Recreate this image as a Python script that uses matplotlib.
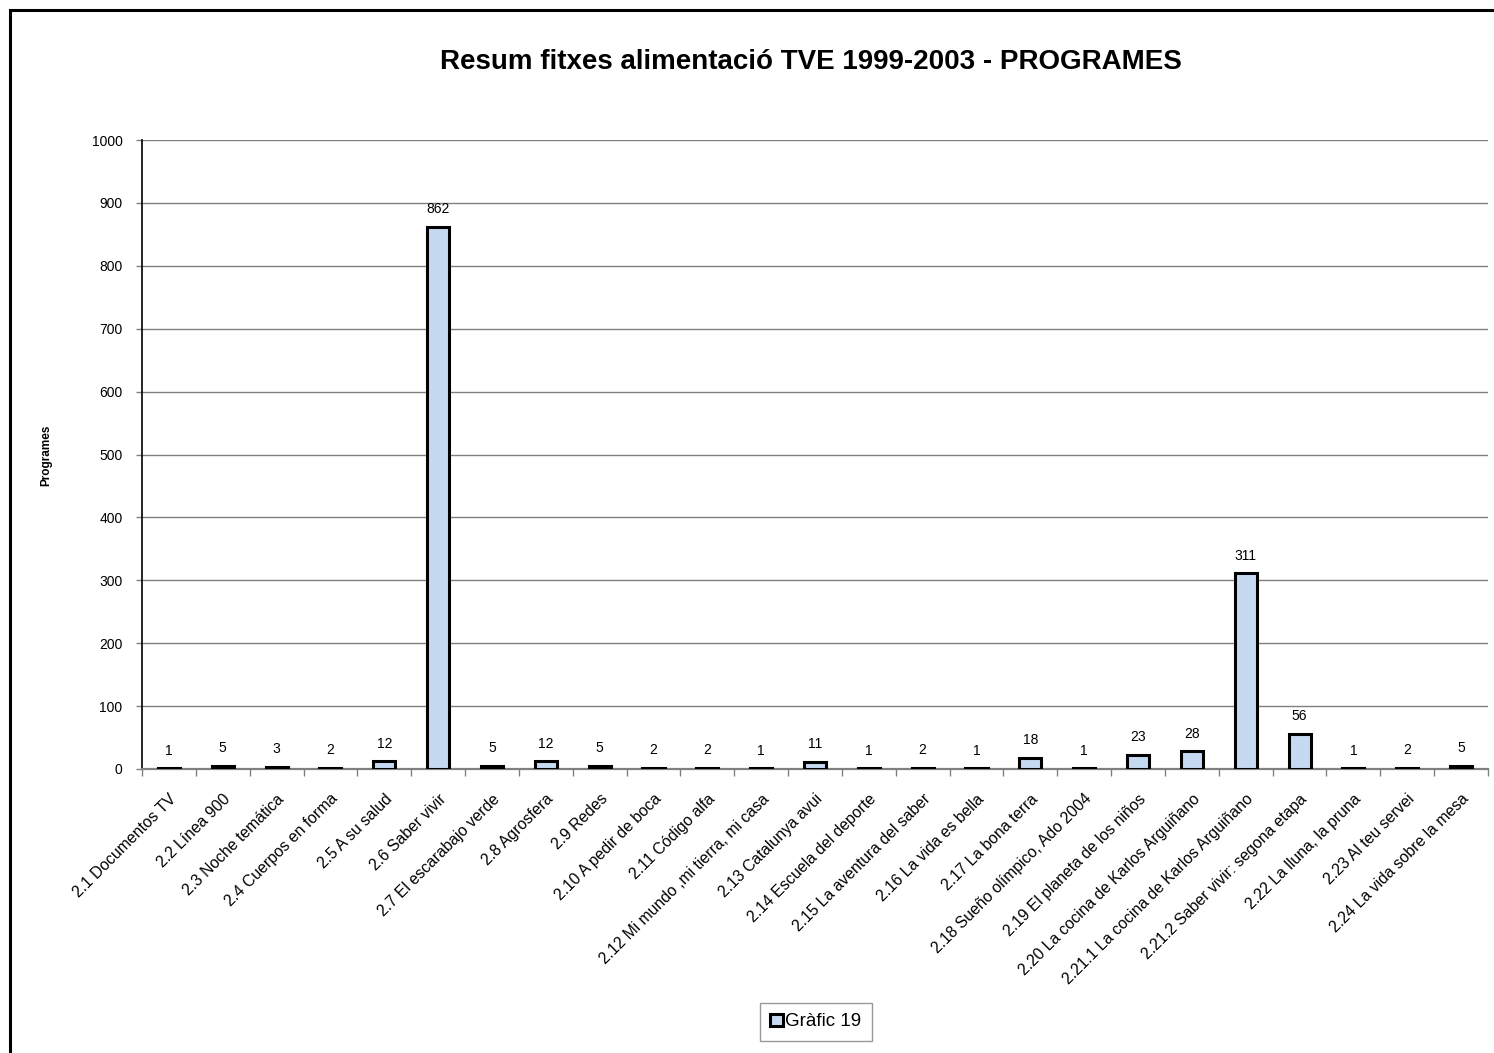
import matplotlib
matplotlib.use("Agg")
import matplotlib.pyplot as plt
from matplotlib.patches import Rectangle
import numpy as np

plt.rcParams['font.family'] = ['Liberation Sans', 'DejaVu Sans']

categories = ["2.1 Documentos TV", "2.2 Línea 900", "2.3 Noche temática", "2.4 Cuerpos en forma",
              "2.5 A su salud", "2.6 Saber vivir", "2.7 El escarabajo verde", "2.8 Agrosfera",
              "2.9 Redes", "2.10 A pedir de boca", "2.11 Código alfa", "2.12 Mi mundo ,mi tierra, mi casa",
              "2.13 Catalunya avui", "2.14 Escuela del deporte", "2.15 La aventura del saber",
              "2.16 La vida es bella", "2.17 La bona terra", "2.18 Sueño olímpico, Ado 2004",
              "2.19 El planeta de los niños", "2.20 La cocina de Karlos Arguiñano",
              "2.21.1 La cocina de Karlos Arguiñano", "2.21.2 Saber vivir: segona etapa",
              "2.22 La lluna, la pruna", "2.23 Al teu servei", "2.24 La vida sobre la mesa"]
values = [1, 5, 3, 2, 12, 862, 5, 12, 5, 2, 2, 1, 11, 1, 2, 1, 18, 1, 23, 28, 311, 56, 1, 2, 5]
yticks = [0, 100, 200, 300, 400, 500, 600, 700, 800, 900, 1000]
series_name = "Gràfic 19"
title = "Resum fitxes alimentació TVE 1999-2003 - PROGRAMES"
ylabel = "Programes"

W, H = 1494, 1053
fig = plt.figure(figsize=(W / 100, H / 100), dpi=100)

# outer border
fig.patches.append(Rectangle((10 / W, -0.01), 1.02, 1 - 10 / H + 0.01, transform=fig.transFigure,
                             fill=False, edgecolor='black', linewidth=2.2))

left, right, top, bottom = 142, 1488, 140, 769
ax = fig.add_axes([left / W, 1 - bottom / H, (right - left) / W, (bottom - top) / H])

n = len(categories)
x = np.arange(n)
ax.bar(x, values, width=0.41, color='#c5d9f1', edgecolor='black', linewidth=2.2, zorder=3,
       label=series_name)
for xi, v in zip(x, values):
    ax.text(xi, v + 17, str(v), ha='center', va='bottom', fontsize=10, color='black')

ax.set_xlim(-0.5, n - 0.5)
ax.set_ylim(0, 1000)
ax.set_yticks(yticks)
ax.set_yticklabels([str(t) for t in yticks], fontsize=10)
ax.yaxis.grid(True, color='#808080', linewidth=1.0, zorder=0)
ax.set_axisbelow(True)

ax.set_xticks(x)
ax.set_xticklabels(categories, rotation=45, ha='right', rotation_mode='anchor', fontsize=11.3)
ax.tick_params(axis='x', length=0, pad=16)
ax.set_xticks(np.arange(-0.5, n, 1.0), minor=True)
ax.tick_params(axis='x', which='minor', length=5, width=1, color='#808080')
ax.tick_params(axis='y', length=4, width=1, color='#808080', pad=10)

for s in ['top', 'right']:
    ax.spines[s].set_visible(False)
ax.spines['left'].set_color('black')
ax.spines['left'].set_linewidth(1.2)
ax.spines['bottom'].set_color('#808080')
ax.spines['bottom'].set_linewidth(1.6)

fig.text(811 / W, 1 - 62 / H, title, ha='center', va='center', fontsize=20, fontweight='bold')
fig.text(46 / W, 1 - 455 / H, ylabel, ha='center', va='center', rotation=90, fontsize=8.5,
         fontweight='bold')

leg = fig.legend(loc='center', bbox_to_anchor=(816 / W, 1 - 1022 / H), fontsize=13.5, frameon=True,
                 fancybox=False, edgecolor='#808080', handlelength=0.65, handleheight=0.65,
                 handletextpad=0.15, borderpad=0.55)
leg.get_frame().set_linewidth(1.0)

fig.savefig("out.png", dpi=100)
